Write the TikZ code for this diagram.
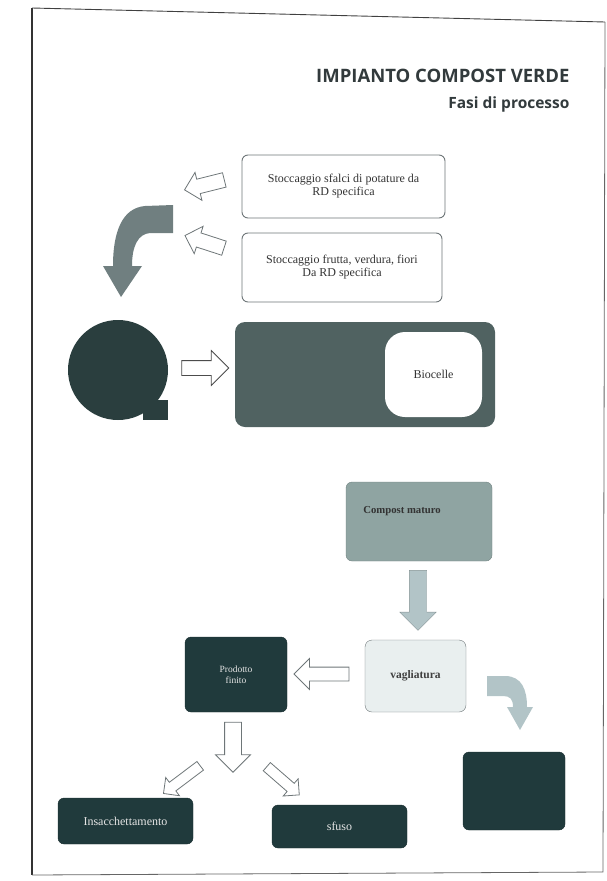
\documentclass[tikz,border=0pt]{standalone}
\usepackage{fontspec}
\setmainfont{Liberation Serif}
\setsansfont{Open Sans}
\usepackage{tikz}
\usetikzlibrary{shapes.arrows,positioning}

\definecolor{boxdark}{RGB}{32,58,60}
\definecolor{bigbox}{RGB}{80,98,97}
\definecolor{circfill}{RGB}{42,62,62}
\definecolor{curvegray}{RGB}{112,127,128}
\definecolor{compost}{RGB}{143,164,162}
\definecolor{lightarrow}{RGB}{178,196,199}
\definecolor{vaglia}{RGB}{233,239,239}
\definecolor{titlegray}{RGB}{50,58,60}
\definecolor{edgegray}{RGB}{110,118,120}

\begin{document}
\begin{tikzpicture}[x=1pt,y=-1pt,
  every node/.style={font=\fontsize{12}{13}\selectfont,align=center},
  whitebox/.style={draw=edgegray,fill=white,rounded corners=6pt,line width=0.9pt,text=black!80},
  darkbox/.style={draw=boxdark!80!black,fill=boxdark,rounded corners=6pt,text=white!80!gray},
  hollowarrow/.style={single arrow,draw=edgegray,fill=white,line width=0.8pt,inner xsep=0pt}]
\useasboundingbox (0,0) rectangle (607,881);
% frame of the sheet
\draw[black!75,line width=0.9pt](32,8)--(605,22);
\draw[black!80,line width=1.2pt](32,8)--(32,875);
\draw[black!60,line width=0.8pt](32,875)--(603,872)--(605,22);
% title
\node[font=\sffamily\bfseries\fontsize{18.5}{20}\selectfont,text=titlegray,anchor=east] (titolo) at (573,76) {IMPIANTO COMPOST VERDE};
\node[font=\sffamily\bfseries\fontsize{15.5}{18}\selectfont,text=titlegray,anchor=east] (fasi) at (573,104) {Fasi di processo};
%% stoccaggio
\node[whitebox,minimum width=203pt,minimum height=63pt] (sfalci) at (343.5,186.5) {Stoccaggio sfalci di potature da\\RD specifica};
\node[whitebox,minimum width=200pt,minimum height=69pt] (frutta) at (342,267.5) {Stoccaggio frutta, verdura, fiori\\Da RD specifica};
\node[hollowarrow,minimum height=41pt,inner ysep=7pt,single arrow head extend=7pt,rotate=194] (a1) at (208,184) {};
\node[hollowarrow,minimum height=41pt,inner ysep=7pt,single arrow head extend=7pt,rotate=162] (a2) at (208,243) {};
%% curved arrow down to the circle
\fill[curvegray](173,205)--(145,206) .. controls (122,208) and (113,232) .. (113,266)--(103,266)--(121,297)--(142,266)--(132,266) .. controls (132,246) and (138,234) .. (150,233)--(173,233)--cycle;
%% circle and biocelle
\fill[circfill](118,370) circle (50);
\fill[circfill](143,400) rectangle (168,420);
\node[hollowarrow,minimum height=47pt,inner ysep=7pt,single arrow head extend=10pt,draw=black!70] (a3) at (201.5,368) {};
\node[fill=bigbox,rounded corners=10pt,minimum width=260pt,minimum height=105pt] (celle) at (365,374.5) {};
\node[fill=white,rounded corners=20pt,minimum width=97pt,minimum height=85pt,font=\fontsize{12}{13}\selectfont,text=black!80] (bio) at (433.5,374.5) {Biocelle};
%% compost
\node[fill=compost,draw=compost!80!black,rounded corners=6pt,minimum width=146pt,minimum height=79pt] (compost) at (419,521.5) {};
\node[text=black!80,font=\bfseries\fontsize{10.7}{12}\selectfont] (cm) at (402,511) {Compost maturo};
\node[single arrow,fill=lightarrow,draw=lightarrow!75!black,inner xsep=0pt,inner ysep=8.5pt,single arrow head extend=9.5pt,minimum height=60pt,rotate=-90] (a4) at (418,596) {};
\node[draw=edgegray,fill=vaglia,rounded corners=7pt,minimum width=101pt,minimum height=72pt,font=\bfseries\fontsize{11.5}{13}\selectfont,text=black!75] (vaglio) at (415.5,676) {vagliatura};
\node[hollowarrow,minimum height=55pt,inner ysep=6.5pt,single arrow head extend=8.5pt,rotate=180] (a5) at (325,674) {};
\fill[lightarrow](487,676)--(505,676) .. controls (522,676) and (527,690) .. (527,707)--(533,707)--(520,730)--(507,707)--(513,707) .. controls (513,699) and (510,696) .. (503,696)--(487,696)--cycle;
\node[darkbox,minimum width=102pt,minimum height=78pt] (scarto) at (514,791) {};
%% prodotto finito
\node[darkbox,minimum width=102pt,minimum height=75pt,font=\fontsize{9.5}{11}\selectfont] (prodotto) at (236,674.5) {Prodotto\\finito};
\node[hollowarrow,minimum height=50pt,inner ysep=8pt,single arrow head extend=9pt,rotate=-90] (a6) at (233,743) {};
\node[hollowarrow,minimum height=46pt,inner ysep=5pt,single arrow head extend=6pt,rotate=217] (a7) at (184,778) {};
\node[hollowarrow,minimum height=43pt,inner ysep=5pt,single arrow head extend=6pt,rotate=-41] (a8) at (281,779) {};
\node[darkbox,minimum width=135pt,minimum height=46pt] (sacchi) at (125.5,821) {Insacchettamento};
\node[darkbox,minimum width=135pt,minimum height=43pt] (sfuso) at (339.5,826.5) {sfuso};
\end{tikzpicture}
\end{document}
